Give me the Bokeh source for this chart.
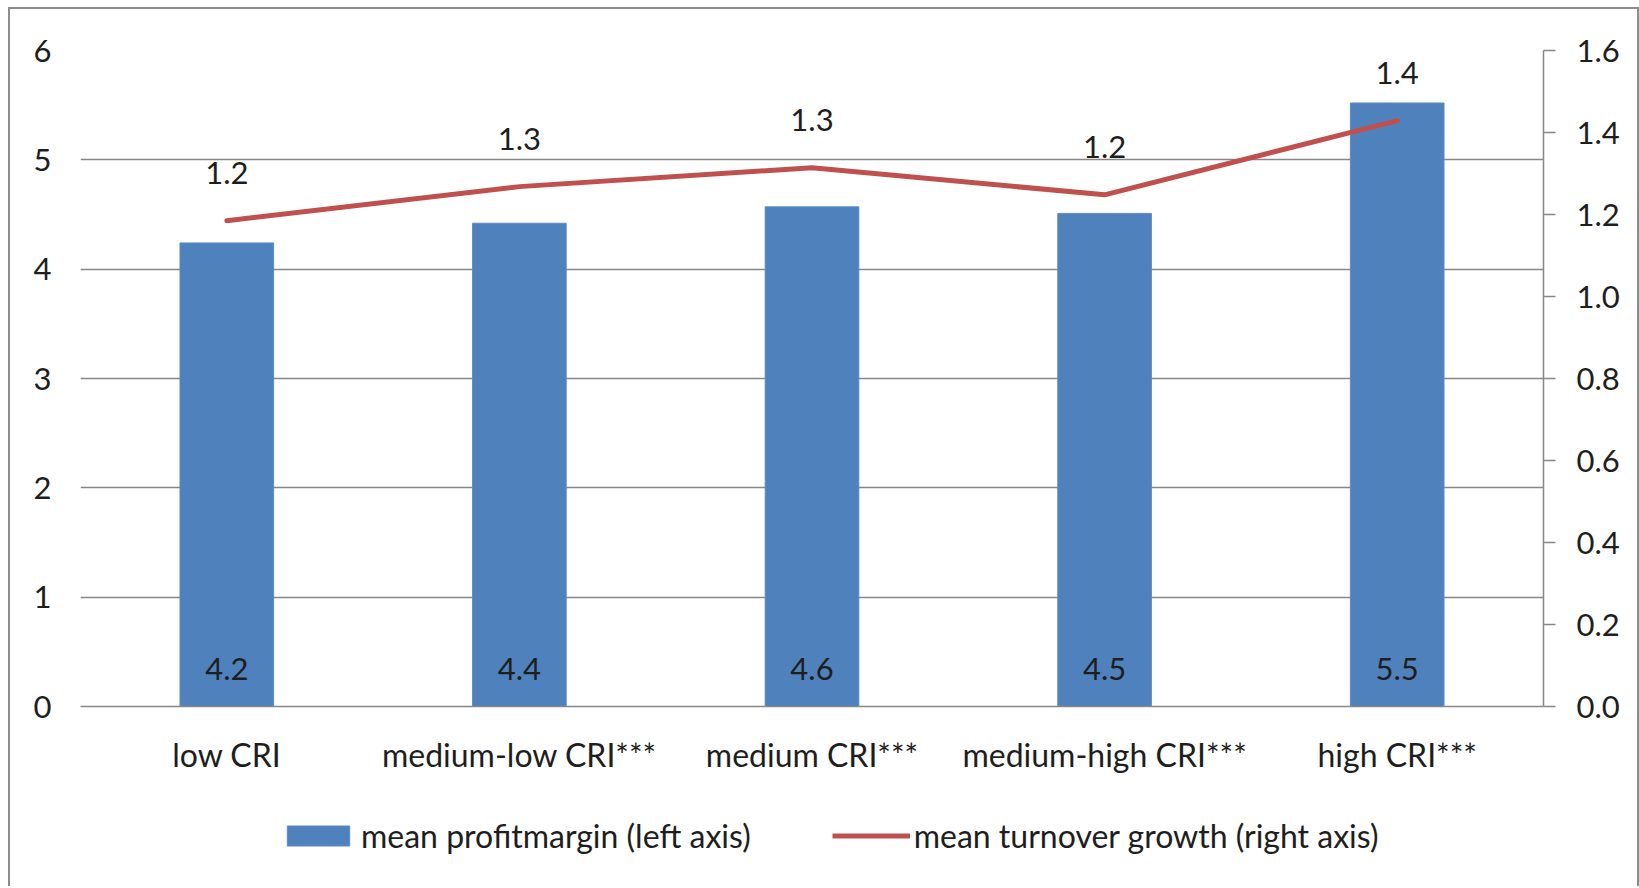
from bokeh.plotting import figure
from bokeh.layouts import column
from bokeh.models import (Range1d, LinearAxis, FactorRange, FixedTicker, NumeralTickFormatter,
                          Legend, LegendItem, ColumnDataSource)
from bokeh.core.properties import value
from bokeh.embed import file_html
from bokeh.resources import INLINE

categories = ["low CRI", "medium-low CRI***", "medium CRI***", "medium-high CRI***", "high CRI***"]
profit = [4.24, 4.42, 4.57, 4.51, 5.52]
growth = [1.185, 1.268, 1.314, 1.248, 1.429]
profit_labels = ["4.2", "4.4", "4.6", "4.5", "5.5"]
growth_labels = ["1.2", "1.3", "1.3", "1.2", "1.4"]
left_ticks = [0, 1, 2, 3, 4, 5, 6]
right_ticks = [0.0, 0.2, 0.4, 0.6, 0.8, 1.0, 1.2, 1.4, 1.6]
series_names = ["mean profitmargin (left axis)", "mean turnover growth (right axis)"]

FONT = "Lato"
FS = "31px"
FS_LBL = "32px"
TXT = "#1e1e1e"
GRID = "#878787"
BLUE = "#4F81BD"
BAR_EDGE = "#5b8cc6"
RED = "#C0504D"

src = ColumnDataSource(dict(cat=categories, profit=profit, growth=growth,
                            plab=profit_labels, glab=growth_labels,
                            base=[0 for _ in profit]))

p = figure(width=1627, height=791, x_range=FactorRange(*categories, range_padding=0),
           y_range=Range1d(left_ticks[0], left_ticks[-1]),
           output_backend="svg", toolbar_location=None,
           min_border_left=70, min_border_right=94, min_border_top=41, min_border_bottom=94)
p.outline_line_color = None
p.background_fill_color = "white"
p.border_fill_color = "white"

p.extra_y_ranges = {"right": Range1d(right_ticks[0], right_ticks[-1])}

# left axis
ya = p.yaxis[0]
ya.ticker = FixedTicker(ticks=left_ticks)
ya.axis_line_color = None
ya.major_tick_line_color = None
ya.minor_tick_line_color = None
ya.major_label_standoff = 23
ya.major_label_text_font = FONT
ya.major_label_text_font_size = FS
ya.major_label_text_color = TXT

# right axis
ra = LinearAxis(y_range_name="right", ticker=FixedTicker(ticks=right_ticks),
                formatter=NumeralTickFormatter(format="0.0"))
ra.axis_line_color = GRID
ra.axis_line_width = 1.5
ra.major_tick_line_color = GRID
ra.major_tick_line_width = 1.5
ra.major_tick_out = 12
ra.major_tick_in = 0
ra.minor_tick_line_color = None
ra.major_label_standoff = 21
ra.major_label_text_font = FONT
ra.major_label_text_font_size = FS
ra.major_label_text_color = TXT
p.add_layout(ra, "right")

# x axis
xa = p.xaxis[0]
xa.axis_line_color = GRID
xa.axis_line_width = 1.5
xa.major_tick_line_color = None
xa.minor_tick_line_color = None
xa.major_label_standoff = 22
xa.major_label_text_font = FONT
xa.major_label_text_font_size = FS_LBL
xa.major_label_text_color = TXT

p.xgrid.grid_line_color = None
p.ygrid.grid_line_color = GRID
p.ygrid.grid_line_width = 1.5

p.vbar(x="cat", top="profit", width=0.32, source=src, fill_color=BLUE,
       line_color=BAR_EDGE, line_width=1)
p.line(x="cat", y="growth", source=src, y_range_name="right", line_color=RED,
       line_width=5, line_cap="round", line_join="round")

p.text(x="cat", y="base", text="plab", source=src, text_align="center",
       text_baseline="middle", y_offset=-38, text_font=value(FONT),
       text_font_size=FS, text_color=TXT)
p.text(x="cat", y="growth", text="glab", source=src, y_range_name="right",
       text_align="center", text_baseline="middle", y_offset=-48,
       text_font=value(FONT), text_font_size=FS, text_color=TXT)

# legend strip (separate figure so that the legend is not clipped)
p2 = figure(width=1627, height=86, x_range=FactorRange(*categories, range_padding=0),
            y_range=Range1d(left_ticks[0], left_ticks[-1]),
            x_axis_type=None, y_axis_type=None, output_backend="svg", toolbar_location=None,
            min_border=0, min_border_left=0, min_border_right=0, min_border_top=0,
            min_border_bottom=0)
p2.outline_line_color = None
p2.background_fill_color = "white"
p2.border_fill_color = "white"
lb = p2.vbar(x="cat", top="profit", source=src, width=0.32, fill_color=BLUE,
             line_color=BAR_EDGE, line_width=1, visible=False)
ll = p2.line(x="cat", y="profit", source=src, line_color=RED, line_width=5,
             line_cap="butt", visible=False)

legend = Legend(items=[LegendItem(label=series_names[0], renderers=[lb]),
                       LegendItem(label=series_names[1], renderers=[ll])],
                orientation="horizontal", location=(199, 31))
legend.padding = 0
legend.margin = 0
legend.spacing = 81
legend.glyph_width = 78
legend.glyph_height = 25
legend.label_standoff = 4
legend.label_text_font = FONT
legend.label_text_font_size = FS_LBL
legend.label_text_color = TXT
legend.background_fill_alpha = 0
legend.border_line_color = None
p2.add_layout(legend)

layout = column(p, p2, spacing=0,
                styles={"margin-left": "8px", "margin-top": "7px",
                        "border-left": "2px solid #8c8c8c", "border-top": "2px solid #8c8c8c",
                        "border-right": "2px solid #8c8c8c", "background": "white"})

open("out.html", "w").write(file_html(layout, INLINE))
